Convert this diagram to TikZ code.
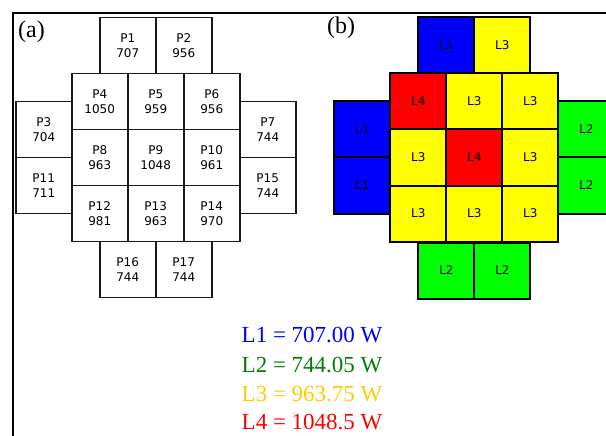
\documentclass[tikz,border=0pt]{standalone}
\usepackage{fontspec}
\setmainfont{Liberation Serif}
\newfontfamily\cellfont{DejaVu Sans}
\definecolor{lgreen}{RGB}{0,128,0}
\definecolor{lgold}{RGB}{255,204,0}
\definecolor{cblue}{RGB}{0,0,255}
\definecolor{cgreen}{RGB}{0,255,0}
\definecolor{cyellow}{RGB}{255,255,0}
\definecolor{cred}{RGB}{255,0,0}
\begin{document}
\begin{tikzpicture}[x=1pt,y=-1pt,
  cellA/.style={draw=black!90,line width=1.8pt,minimum size=56pt,inner sep=0pt,align=center,
    font=\cellfont\fontsize{12}{14.5}\selectfont},
  cellB/.style={draw=black,line width=2pt,minimum size=56pt,inner sep=0pt,
    font=\cellfont\fontsize{12}{14.5}\selectfont},
  lab/.style={anchor=base west,inner sep=0pt,font=\fontsize{24}{24}\selectfont},
  leg/.style={anchor=base west,inner sep=0pt,font=\fontsize{23}{23}\selectfont}]
\useasboundingbox (0,0) rectangle (606,436);
\begin{scope}
\clip (0,0) rectangle (606,436);
% frame
\coordinate (fa) at (13,436);
\coordinate (fb) at (13,13);
\coordinate (fc) at (606,13);
\draw[line width=2.4pt] (fa) -- (fb) -- (fc);
% panel a
\node[lab] (la) at (18,38) {(a)};
\node[cellA] (p1) at (127.75,45.5) {P1\\707};
\node[cellA] (p2) at (183.75,45.5) {P2\\956};
\node[cellA] (p3) at (43.75,129.5) {P3\\704};
\node[cellA] (p11) at (43.75,185.5) {P11\\711};
\node[cellA] (p7) at (267.75,129.5) {P7\\744};
\node[cellA] (p15) at (267.75,185.5) {P15\\744};
\node[cellA] (p16) at (127.75,269.5) {P16\\744};
\node[cellA] (p17) at (183.75,269.5) {P17\\744};
\node[cellA] (p4) at (99.75,101.5) {P4\\1050};
\node[cellA] (p5) at (155.75,101.5) {P5\\959};
\node[cellA] (p6) at (211.75,101.5) {P6\\956};
\node[cellA] (p8) at (99.75,157.5) {P8\\963};
\node[cellA] (p9) at (155.75,157.5) {P9\\1048};
\node[cellA] (p10) at (211.75,157.5) {P10\\961};
\node[cellA] (p12) at (99.75,213.5) {P12\\981};
\node[cellA] (p13) at (155.75,213.5) {P13\\963};
\node[cellA] (p14) at (211.75,213.5) {P14\\970};
% panel b
\node[lab] (lb) at (327,34) {(b)};
\node[cellB,fill=cblue] (q1) at (446.4,45.5) {L1};
\node[cellB,fill=cyellow] (q2) at (502.4,45.5) {L3};
\node[cellB,fill=cblue] (q3) at (362.4,129.5) {L1};
\node[cellB,fill=cblue] (q11) at (362.4,185.5) {L1};
\node[cellB,fill=cgreen] (q7) at (586.4,129.5) {L2};
\node[cellB,fill=cgreen] (q15) at (586.4,185.5) {L2};
\node[cellB,fill=cgreen] (q16) at (446.4,270.5) {L2};
\node[cellB,fill=cgreen] (q17) at (502.4,270.5) {L2};
\node[cellB,fill=cred] (q4) at (418.4,101.5) {L4};
\node[cellB,fill=cyellow] (q5) at (474.4,101.5) {L3};
\node[cellB,fill=cyellow] (q6) at (530.4,101.5) {L3};
\node[cellB,fill=cyellow] (q8) at (418.4,157.5) {L3};
\node[cellB,fill=cred] (q9) at (474.4,157.5) {L4};
\node[cellB,fill=cyellow] (q10) at (530.4,157.5) {L3};
\node[cellB,fill=cyellow] (q12) at (418.4,213.5) {L3};
\node[cellB,fill=cyellow] (q13) at (474.4,213.5) {L3};
\node[cellB,fill=cyellow] (q14) at (530.4,213.5) {L3};
% legend
\node[leg,text=cblue] (l1) at (241.5,342.7) {L1 = 707.00 W};
\node[leg,text=lgreen] (l2) at (241.5,372.5) {L2 = 744.05 W};
\node[leg,text=lgold] (l3) at (241.5,401) {L3 = 963.75 W};
\node[leg,text=cred] (l4) at (241.5,429) {L4 = 1048.5 W};
\end{scope}
\end{tikzpicture}
\end{document}
